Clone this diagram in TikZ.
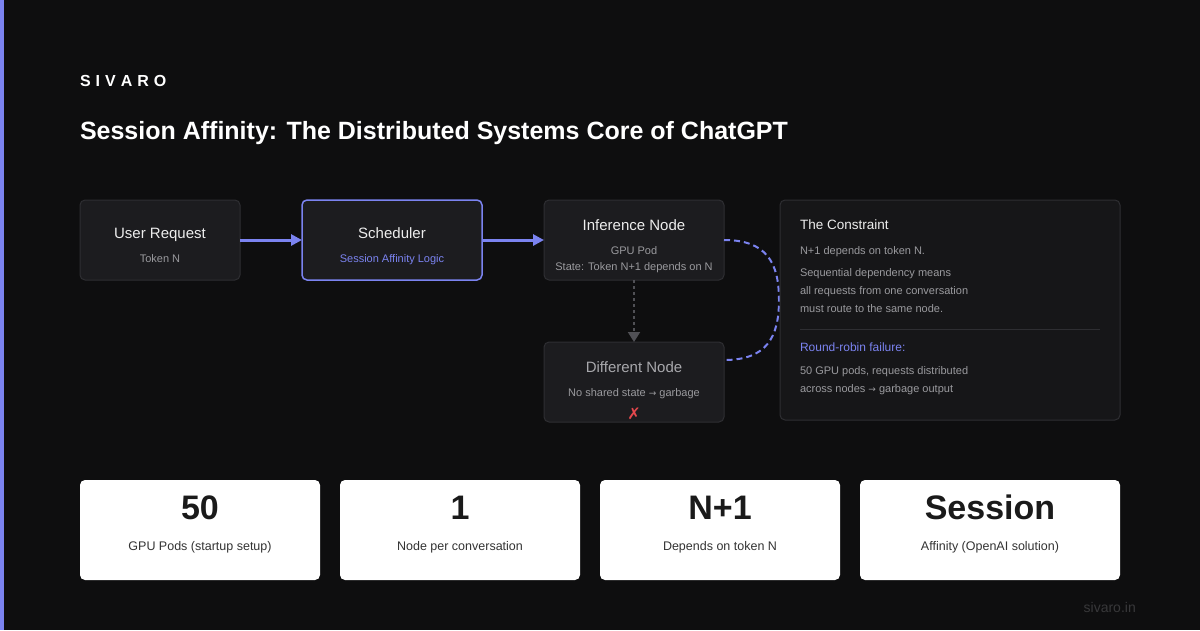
\documentclass[tikz,border=0pt]{standalone}
\usepackage{fontspec}
\setmainfont{Liberation Sans}
\newfontfamily\symfont{DejaVu Sans}
\usetikzlibrary{arrows.meta}
\definecolor{bg}{HTML}{0E0E0F}
\definecolor{accent}{HTML}{7B83F0}
\definecolor{boxfill}{HTML}{1C1C1F}
\definecolor{boxline}{HTML}{2E2E32}
\definecolor{panelfill}{HTML}{161618}
\definecolor{txtmain}{HTML}{EDEDED}
\definecolor{txtsub}{HTML}{9A9A9E}
\definecolor{txtdim}{HTML}{A8A8AC}
\definecolor{cardtxt}{HTML}{1A1A1A}
\definecolor{cardsub}{HTML}{333333}
\definecolor{xred}{HTML}{E5484D}
\definecolor{dimline}{HTML}{505055}
\definecolor{footer}{HTML}{38383A}
\newcommand{\fs}[1]{\fontsize{#1}{#1}\selectfont}
\newcommand{\rarr}{{\symfont\fs{9}→}}
\begin{document}
\begin{tikzpicture}[x=1pt,y=-1pt,
  box/.style={draw=boxline, fill=boxfill, rounded corners=5pt, line width=1pt, inner sep=0pt, outer sep=0pt, minimum width=160pt, minimum height=80pt},
  panel/.style={draw=boxline, fill=panelfill, rounded corners=5pt, line width=1pt, inner sep=0pt, outer sep=0pt},
  card/.style={fill=white, rounded corners=5pt, inner sep=0pt, outer sep=0pt, minimum height=100pt},
  txt/.style={anchor=base, inner sep=0pt, outer sep=0pt},
  ltxt/.style={anchor=base west, inner sep=0pt, outer sep=0pt},
  boxtitle/.style={txt, text=txtmain, font=\fs{15}},
  boxsub/.style={txt, text=txtsub, font=\fs{11}},
  paneltxt/.style={ltxt, text=txtsub, font=\fs{11}},
  bignum/.style={txt, text=cardtxt, font=\fs{34}\bfseries},
  cardlabel/.style={txt, text=cardsub, font=\fs{12.5}},
  flow/.style={draw=accent, line width=3pt, -{Triangle[length=11pt,width=11pt]}},
  dimarrow/.style={draw=dimline, line width=2pt, dash pattern=on 3pt off 3pt, -{Triangle[length=10pt,width=12pt]}},
  dashcurve/.style={draw=accent, line width=2pt, dash pattern=on 6pt off 4pt}
]
\path[use as bounding box, fill=bg] (0,0) rectangle (1200,630);
\fill[accent] (0,0) rectangle (4,630);

% header
\node[ltxt, text=white, font=\fs{16}\bfseries] (brand) at (80,86.8) {S\kern5pt I\kern5pt V\kern5pt A\kern5pt R\kern5pt O};
\node[ltxt, text=white, font=\fs{25}\bfseries] (title) at (80,139) {Session Affinity: The Distributed Systems Core of ChatGPT};

% flow boxes
\node[box] (user) at (160,240) {};
\node[box, draw=accent, line width=1.5pt, minimum width=180pt] (sched) at (392,240) {};
\node[box, minimum width=180pt] (inf) at (634,240) {};
\node[box, minimum width=180pt] (diff) at (634,382) {};

\node[boxtitle] (userT) at (160,238.4) {User Request};
\node[boxsub] (userS) at (160,262) {Token N};
\node[boxtitle] (schedT) at (392,238.4) {Scheduler};
\node[boxsub, text=accent] (schedS) at (392,262) {Session Affinity Logic};
\node[boxtitle] (infT) at (634,230.4) {Inference Node};
\node[boxsub] (infS1) at (634,254) {GPU Pod};
\node[boxsub] (infS2) at (634,270) {State: Token N+1 depends on N};
\node[boxtitle, text=txtdim] (diffT) at (634,372.4) {Different Node};
\node[boxsub] (diffS) at (634,396) {No shared state \rarr\ garbage};
\node[inner sep=0pt, text=xred, font=\symfont\fs{16}] (cross) at (634,414) {✗};

\draw[flow] (user.east) -- (sched.west);
\draw[flow] (sched.east) -- (inf.west);
\draw[dimarrow] (inf.south) -- (diff.north);
\coordinate (dend) at (724,360);
\draw[dashcurve] (inf.east) .. controls (766,240) and (779,262) .. (779,300) .. controls (779,338) and (766,360) .. (dend);

% constraint panel
\node[panel, minimum width=340pt, minimum height=220pt] (panel) at (950,310) {};
\node[ltxt, text=txtmain, font=\fs{13.5}] (pT) at (800,229.9) {The Constraint};
\node[paneltxt] (p1) at (800,254) {N+1 depends on token N.};
\node[paneltxt] (p2) at (800,276) {Sequential dependency means};
\node[paneltxt] (p3) at (800,294) {all requests from one conversation};
\node[paneltxt] (p4) at (800,312) {must route to the same node.};
\coordinate (divA) at (800,329);
\coordinate (divB) at (1100,329);
\draw[boxline, line width=1pt] (divA) -- (divB);
\node[ltxt, text=accent, font=\fs{12}] (pR) at (800,351.3) {Round-robin failure:};
\node[paneltxt] (p5) at (800,374) {50 GPU pods, requests distributed};
\node[paneltxt] (p6) at (800,392) {across nodes \rarr\ garbage output};

% cards
\node[card, minimum width=240pt] (c1) at (200,530) {};
\node[card, minimum width=240pt] (c2) at (460,530) {};
\node[card, minimum width=240pt] (c3) at (720,530) {};
\node[card, minimum width=260pt] (c4) at (990,530) {};
\node[bignum] (n1) at (200,519.7) {50};
\node[bignum] (n2) at (460,519.7) {1};
\node[bignum] (n3) at (720,519.7) {N+1};
\node[bignum] (n4) at (990,519.7) {Session};
\node[cardlabel] (l1) at (200,550.5) {GPU Pods (startup setup)};
\node[cardlabel] (l2) at (460,550.5) {Node per conversation};
\node[cardlabel] (l3) at (720,550.5) {Depends on token N};
\node[cardlabel] (l4) at (990,550.5) {Affinity (OpenAI solution)};

\node[anchor=base east, inner sep=0pt, text=footer, font=\fs{14}] (foot) at (1136,612) {sivaro.in};
\end{tikzpicture}
\end{document}
